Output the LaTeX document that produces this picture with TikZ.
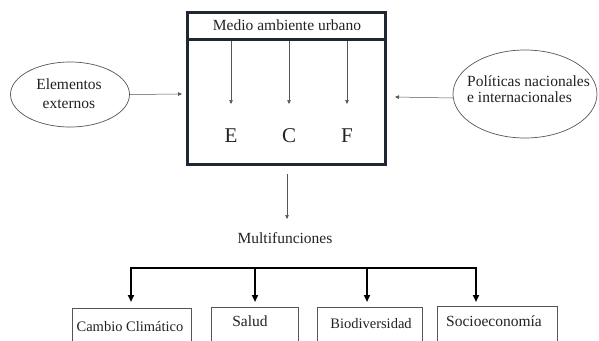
\documentclass[tikz,border=0pt]{standalone}
\usepackage{fontspec}
\setmainfont{Liberation Serif}
\usetikzlibrary{arrows.meta,shapes.geometric}
\definecolor{boxline}{HTML}{1F2733}
\definecolor{thinline}{HTML}{555555}
\definecolor{txt}{HTML}{222222}
\tikzset{
  thinarrow/.style={draw=thinline, line width=0.5pt, -{Triangle[length=4pt,width=3.5pt]}},
  thickarrow/.style={draw=black, line width=2pt, -{Triangle[length=7pt,width=6pt]}},
  oval/.style={ellipse, draw=thinline, line width=0.7pt, inner sep=0pt},
  smallbox/.style={draw=thinline, line width=0.8pt, anchor=north, minimum height=40pt},
  lbl/.style={font=\fontsize{15.5}{17}\selectfont, inner sep=0pt, text=txt},
  slbl/.style={font=\fontsize{14.5}{16}\selectfont, inner sep=0pt, text=txt},
  letter/.style={font=\fontsize{21}{23}\selectfont, inner sep=0pt, text=txt}
}
\begin{document}
\begin{tikzpicture}[x=1pt,y=-1pt]
\clip (0,0) rectangle (599,340);
\fill[white] (0,0) rectangle (599,340);
% main box
\node (box) [draw=boxline, line width=3pt, minimum width=198pt, minimum height=152pt, inner sep=0pt] at (286,88.5) {};
\coordinate (sepL) at (187,39);
\coordinate (sepR) at (385,39);
\draw[boxline, line width=3pt] (sepL) -- (sepR);
\node (title) [lbl] at (287,25.5) {Medio ambiente urbano};
% E C F
\node (E) [letter] at (231,136) {E};
\node (C) [letter] at (289,136) {C};
\node (F) [letter] at (347,136) {F};
\coordinate (Et) at (231,41);
\coordinate (Ct) at (289,41);
\coordinate (Ft) at (347,41);
\coordinate (Eb) at (231,104);
\coordinate (Cb) at (289,104);
\coordinate (Fb) at (347,104);
\draw[thinarrow] (Et) -- (Eb);
\draw[thinarrow] (Ct) -- (Cb);
\draw[thinarrow] (Ft) -- (Fb);
% ellipses
\node (el) [oval, minimum width=119pt, minimum height=65pt] at (70,94.5) {};
\node (elt1) [lbl] at (69,84) {Elementos};
\node (elt2) [lbl] at (69,104) {externos};
\node (er) [oval, minimum width=144pt, minimum height=88pt] at (525,94) {};
\node (ert1) [lbl, anchor=west] at (467,81) {Políticas nacionales};
\node (ert2) [lbl, anchor=west] at (467,97) {e internacionales};
\coordinate (elTo) at (182,94);
\draw[thinarrow] (el.east) -- (elTo);
\coordinate (erFrom) at (453,98);
\coordinate (erTo) at (395,97);
\draw[thinarrow] (erFrom) -- (erTo);
% multifunciones
\node (mf) [lbl] at (285,238) {Multifunciones};
\coordinate (boxB) at (287,174);
\coordinate (mfT) at (287,219);
\draw[thinarrow] (boxB) -- (mfT);
% bottom boxes
\node (cc) [smallbox, minimum width=119pt] at (131.5,308) {};
\node (cct) [slbl] at (130,327) {Cambio Climático};
\node (sa) [smallbox, minimum width=87pt] at (254.5,307) {};
\node (sat) [lbl] at (250,321) {Salud};
\node (bi) [smallbox, minimum width=105pt] at (369.5,307) {};
\node (bit) [slbl] at (371,324) {Biodiversidad};
\node (so) [smallbox, minimum width=120pt] at (497,306) {};
\node (sot) [lbl] at (494,321) {Socioeconomía};
% bracket
\coordinate (b1) at (131,268);
\coordinate (b2) at (255,268);
\coordinate (b3) at (367,268);
\coordinate (b4) at (476,268);
\coordinate (e1) at (131,302);
\coordinate (e2) at (255,302);
\coordinate (e3) at (367,302);
\coordinate (e4) at (476,302);
\draw[black, line width=2pt, line cap=rect] (b1) -- (b4);
\draw[thickarrow] (b1) -- (e1);
\draw[thickarrow] (b2) -- (e2);
\draw[thickarrow] (b3) -- (e3);
\draw[thickarrow] (b4) -- (e4);
\end{tikzpicture}
\end{document}
